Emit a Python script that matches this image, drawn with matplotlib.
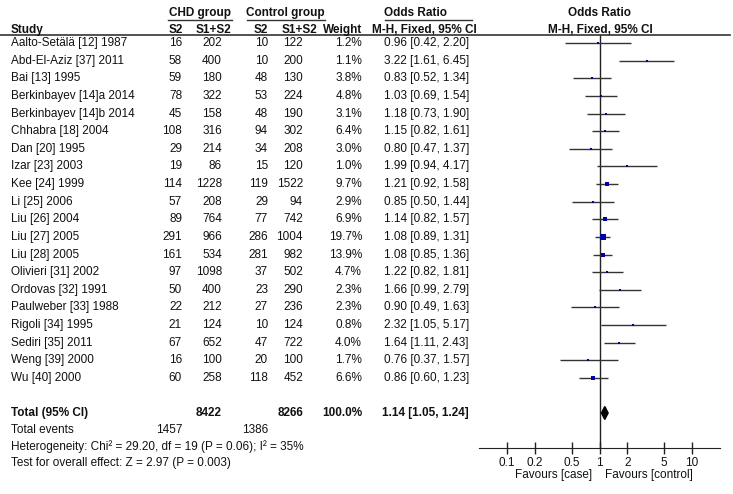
import matplotlib.pyplot as plt
from matplotlib.patches import Polygon

plt.rcParams['font.family'] = ['Liberation Sans', 'DejaVu Sans']

studies = ['Aalto-Setälä [12] 1987', 'Abd-El-Aziz [37] 2011', 'Bai [13] 1995',
           'Berkinbayev [14]a 2014', 'Berkinbayev [14]b 2014', 'Chhabra [18] 2004',
           'Dan [20] 1995', 'Izar [23] 2003', 'Kee [24] 1999', 'Li [25] 2006',
           'Liu [26] 2004', 'Liu [27] 2005', 'Liu [28] 2005', 'Olivieri [31] 2002',
           'Ordovas [32] 1991', 'Paulweber [33] 1988', 'Rigoli [34] 1995',
           'Sediri [35] 2011', 'Weng [39] 2000', 'Wu [40] 2000']
chd_s2 = [16, 58, 59, 78, 45, 108, 29, 19, 114, 57, 89, 291, 161, 97, 50, 22, 21, 67, 16, 60]
chd_tot = [202, 400, 180, 322, 158, 316, 214, 86, 1228, 208, 764, 966, 534, 1098, 400, 212, 124, 652, 100, 258]
ctl_s2 = [10, 10, 48, 53, 48, 94, 34, 15, 119, 29, 77, 286, 281, 37, 23, 27, 10, 47, 20, 118]
ctl_tot = [122, 200, 130, 224, 190, 302, 208, 120, 1522, 94, 742, 1004, 982, 502, 290, 236, 124, 722, 100, 452]
weight = [1.2, 1.1, 3.8, 4.8, 3.1, 6.4, 3.0, 1.0, 9.7, 2.9, 6.9, 19.7, 13.9, 4.7, 2.3, 2.3, 0.8, 4.0, 1.7, 6.6]
odds = [0.96, 3.22, 0.83, 1.03, 1.18, 1.15, 0.80, 1.99, 1.21, 0.85, 1.14, 1.08, 1.08, 1.22, 1.66, 0.90, 2.32, 1.64, 0.76, 0.86]
ci_lo = [0.42, 1.61, 0.52, 0.69, 0.73, 0.82, 0.47, 0.94, 0.92, 0.50, 0.82, 0.89, 0.85, 0.82, 0.99, 0.49, 1.05, 1.11, 0.37, 0.60]
ci_hi = [2.20, 6.45, 1.34, 1.54, 1.90, 1.61, 1.37, 4.17, 1.58, 1.44, 1.57, 1.31, 1.36, 1.81, 2.79, 1.63, 5.17, 2.43, 1.57, 1.23]

total_chd, total_ctl = 8422, 8266
events_chd, events_ctl = 1457, 1386
total_or, total_lo, total_hi = 1.14, 1.05, 1.24
ticks = [0.1, 0.2, 0.5, 1, 2, 5, 10]

W, H = 733, 494
fs = 8.5
txt = '#111111'
fig = plt.figure(figsize=(W / 100, H / 100), dpi=100)
ax = fig.add_axes([0, 0, 1, 1])
ax.set_xlim(0, W)
ax.set_ylim(H, 0)
ax.axis('off')

row0, pitch = 43, 17.63
rows = [row0 + i * pitch for i in range(len(studies))]
y_total = 413
y_events = y_total + 17
y_het = y_events + 16.5
y_test = y_het + 16
y_axis = 448
line_y = 35

def put(x, y, s, ha='left', bold=False):
    ax.text(x, y, s, ha=ha, va='center', fontsize=fs, color=txt,
            fontweight='bold' if bold else 'normal')

# header
put(200, 13, 'CHD group', 'center', True)
put(285, 13, 'Control group', 'center', True)
put(416, 13, 'Odds Ratio', 'center', True)
put(600, 13, 'Odds Ratio', 'center', True)
ax.plot([168, 232], [20, 20], color='#333333', lw=1)
ax.plot([247, 325], [20, 20], color='#333333', lw=1)
ax.plot([385, 472], [20, 20], color='#333333', lw=1)
put(11, 30, 'Study', bold=True)
for x, lab in zip([183, 231, 268, 317, 362], ['S2', 'S1+S2', 'S2', 'S1+S2', 'Weight']):
    put(x, 30, lab, 'right', True)
put(424, 30, 'M-H, Fixed, 95% CI', 'center', True)
put(600, 30, 'M-H, Fixed, 95% CI', 'center', True)
ax.plot([0, 730], [line_y, line_y], color='#333333', lw=1.2)

# study rows
for i, y in enumerate(rows):
    put(11, y, studies[i])
    put(182, y, str(chd_s2[i]), 'right')
    put(222, y, str(chd_tot[i]), 'right')
    put(268, y, str(ctl_s2[i]), 'right')
    put(303, y, str(ctl_tot[i]), 'right')
    put(362, y, f'{weight[i]:.1f}%', 'right')
    put(469, y, f'{odds[i]:.2f} [{ci_lo[i]:.2f}, {ci_hi[i]:.2f}]', 'right')

# totals
put(11, y_total, 'Total (95% CI)', bold=True)
put(222, y_total, str(total_chd), 'right', True)
put(303, y_total, str(total_ctl), 'right', True)
put(362, y_total, '100.0%', 'right', True)
put(469, y_total, f'{total_or:.2f} [{total_lo:.2f}, {total_hi:.2f}]', 'right', True)
put(11, y_events, 'Total events')
put(183, y_events, str(events_chd), 'right')
put(268, y_events, str(events_ctl), 'right')
put(11, y_het, 'Heterogeneity: Chi² = 29.20, df = 19 (P = 0.06); I² = 35%')
put(11, y_test, 'Test for overall effect: Z = 2.97 (P = 0.003)')

# forest plot
fx0, fx1 = 479, 720
fax = fig.add_axes([fx0 / W, 0, (fx1 - fx0) / W, 1])
fax.patch.set_visible(False)
fax.set_xscale('log')
fax.set_xlim(0.05, 20)
fax.set_ylim(H, 0)
for s in ['left', 'right', 'top']:
    fax.spines[s].set_visible(False)
fax.spines['bottom'].set_position(('data', y_axis))
fax.spines['bottom'].set_color('#222222')
fax.set_xticks(ticks)
fax.set_xticklabels([f'{t:g}' for t in ticks])
fax.minorticks_off()
fax.tick_params(axis='x', direction='inout', length=9, width=1, labelsize=fs,
                pad=2, color='#222222', labelcolor=txt)
fax.set_yticks([])

fax.vlines(1, line_y, y_axis, color='#222222', lw=1)
fax.hlines(rows, ci_lo, ci_hi, color='#333333', lw=1)
for i, y in enumerate(rows):
    side = max(1.7, 0.85 * weight[i] ** 0.5)
    fax.plot(odds[i], y, marker='s', ms=side, color='#0000a8', mec='#0000a8', mew=0)
dia = Polygon([(total_lo, y_total), (total_or, y_total - 6.5),
               (total_hi, y_total), (total_or, y_total + 6.5)],
              closed=True, color='black')
fax.add_patch(dia)

put(592, 475, 'Favours [case]', 'right')
put(605, 475, 'Favours [control]')

fig.savefig('out.png', dpi=100)
